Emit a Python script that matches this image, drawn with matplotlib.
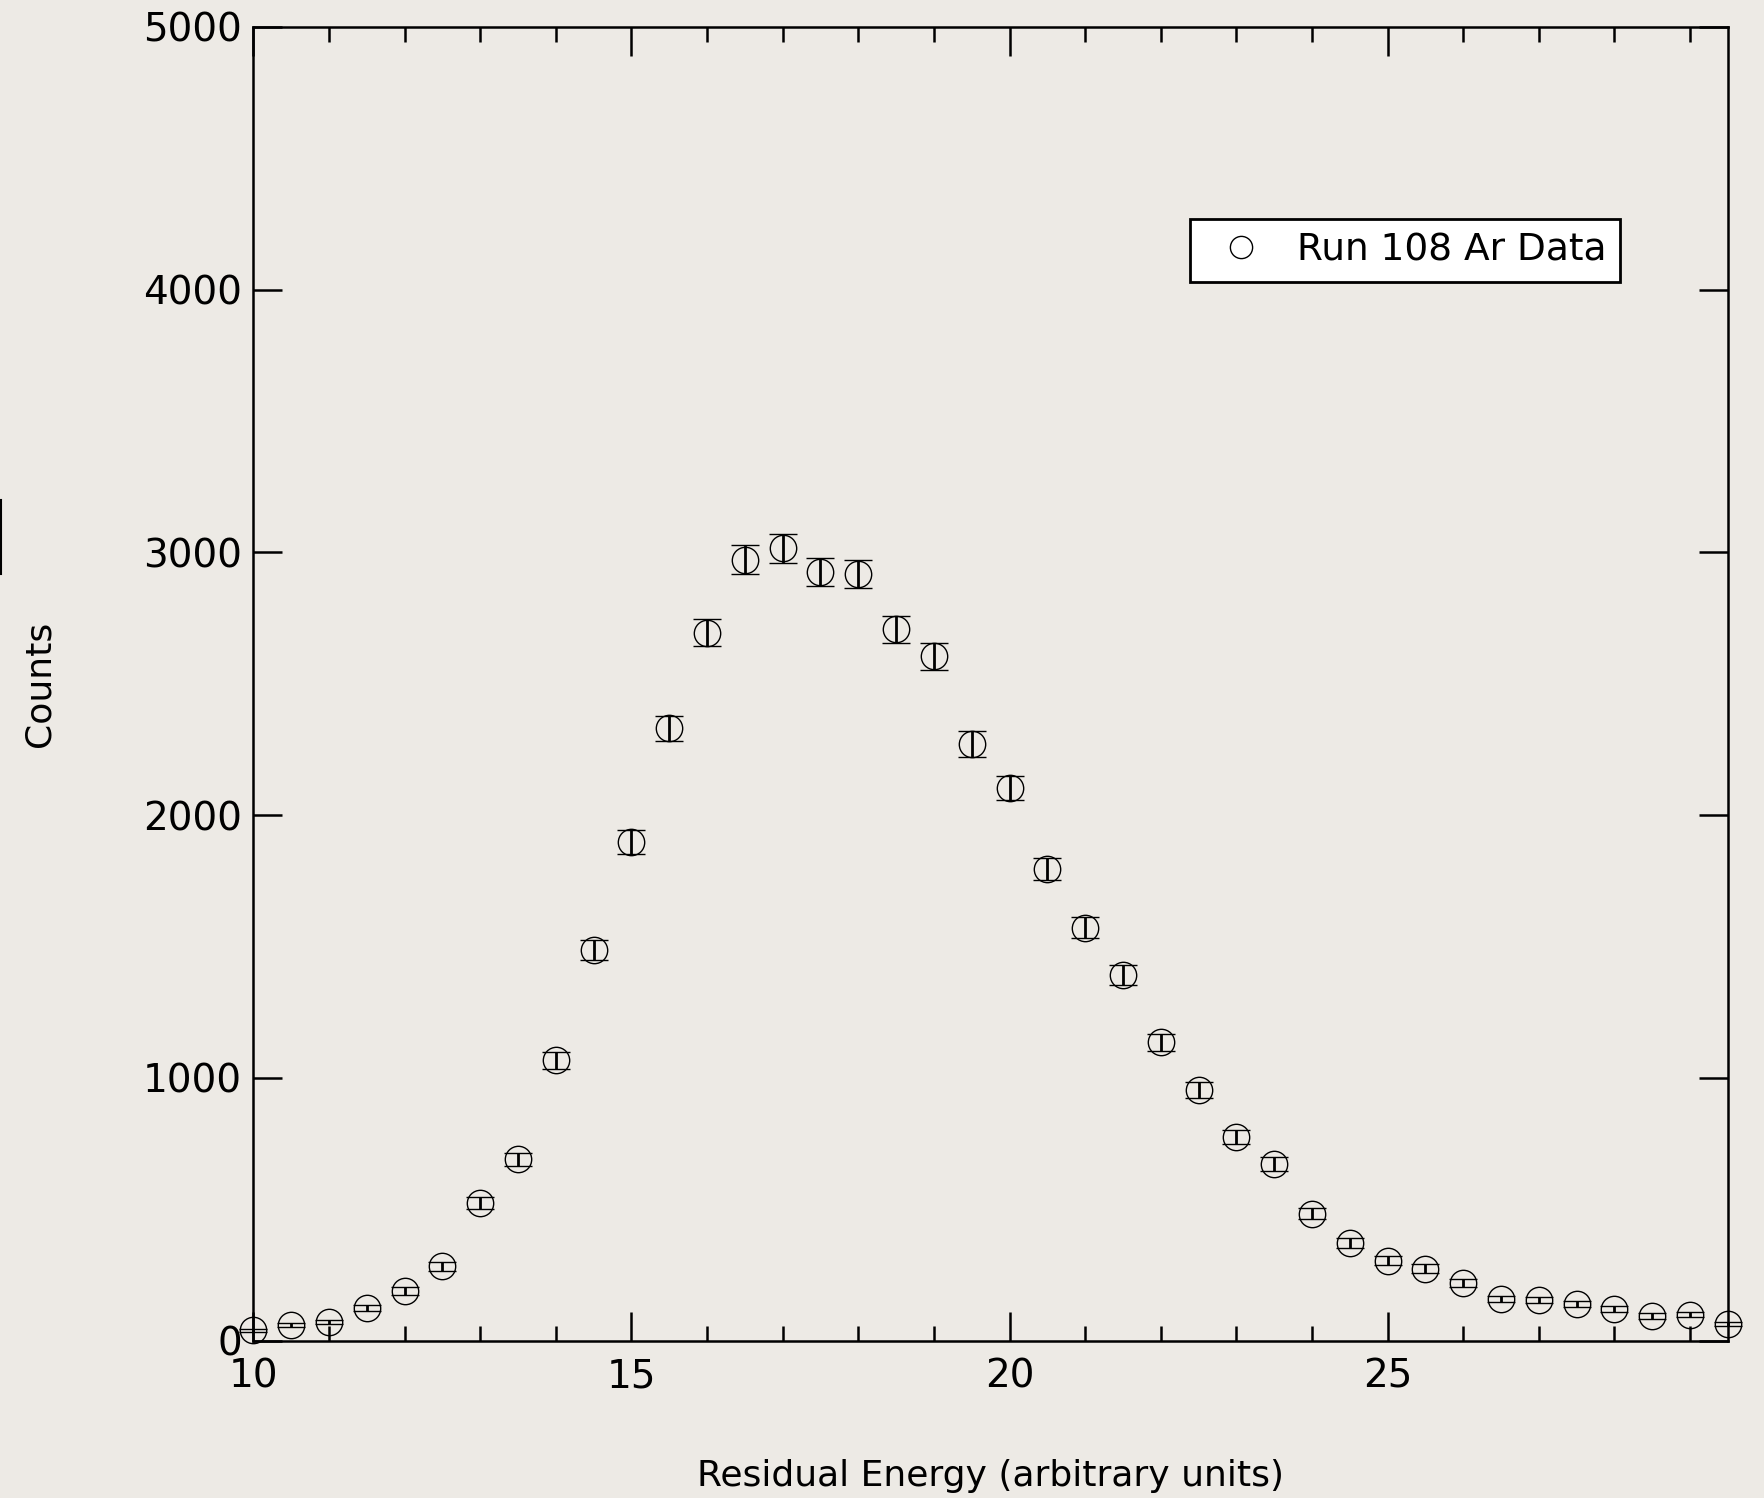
import matplotlib
matplotlib.use("Agg")
import matplotlib.pyplot as plt
from matplotlib.lines import Line2D
from matplotlib.ticker import MultipleLocator

# residual energy bins (arbitrary units)
energy = [10.0, 10.5, 11.0, 11.5, 12.0, 12.5, 13.0, 13.5, 14.0, 14.5,
          15.0, 15.5, 16.0, 16.5, 17.0, 17.5, 18.0, 18.5, 19.0, 19.5,
          20.0, 20.5, 21.0, 21.5, 22.0, 22.5, 23.0, 23.5, 24.0, 24.5,
          25.0, 25.5, 26.0, 26.5, 27.0, 27.5, 28.0, 28.5, 29.0, 29.5]

counts = [40, 60, 70, 124, 189, 283, 523, 690, 1067, 1487,
          1898, 2331, 2695, 2973, 3016, 2926, 2918, 2708, 2605, 2271,
          2104, 1795, 1572, 1392, 1135, 955, 775, 673, 484, 373,
          304, 274, 218, 159, 154, 141, 120, 94, 99, 64]

errors = [6, 8, 8, 11, 14, 17, 23, 26, 33, 39,
          44, 48, 52, 55, 55, 54, 54, 52, 51, 48,
          46, 42, 40, 37, 34, 31, 28, 26, 22, 19,
          17, 17, 15, 13, 12, 12, 11, 10, 10, 8]

bg = '#edeae5'
plt.rcParams['font.family'] = ['DejaVu Sans']

fig = plt.figure(figsize=(17.65, 14.98), dpi=100, facecolor=bg)
ax = fig.add_axes([0.1435, 0.105, 0.979 - 0.1435, 0.982 - 0.105])
ax.set_facecolor(bg)

ax.errorbar(energy, counts, yerr=errors, fmt='o', ms=19, mfc='none',
            mec='black', mew=1.0, ecolor='black', elinewidth=2.0,
            capsize=10, capthick=2.8, clip_on=False, zorder=3)

ax.set_xlim(10, 29.5)
ax.set_ylim(0, 5000)
ax.xaxis.set_major_locator(MultipleLocator(5))
ax.xaxis.set_minor_locator(MultipleLocator(1))
ax.yaxis.set_major_locator(MultipleLocator(1000))

ax.tick_params(which='both', direction='in', top=True, right=True,
               width=1.8, labelsize=28, colors='black')
ax.tick_params(which='major', length=21)
ax.tick_params(which='minor', length=11)
ax.tick_params(axis='x', which='major', pad=12)
ax.tick_params(axis='y', which='major', pad=8)
for sp in ax.spines.values():
    sp.set_linewidth(1.8)

ax.set_xlabel('Residual Energy (arbitrary units)', fontsize=26, labelpad=46)
ax.set_ylabel('Counts', fontsize=26, labelpad=62)

handle = Line2D([], [], ls='none', marker='o', ms=16, mfc='none',
                mec='black', mew=1.0)
leg = ax.legend([handle], ['Run 108 Ar Data'], loc='upper right',
                bbox_to_anchor=(0.927, 0.854),
                fontsize=27, fancybox=False, framealpha=1,
                edgecolor='black', borderpad=0.36, handletextpad=0.5,
                borderaxespad=0, handlelength=2.0)
leg.get_frame().set_linewidth(2)

# small stray mark at the left edge
fig.add_artist(Line2D([0.0008, 0.0008], [1 - 500 / 1498, 1 - 574 / 1498],
                      color='black', lw=1.5))

fig.savefig('out.png', dpi=100, facecolor=bg)
